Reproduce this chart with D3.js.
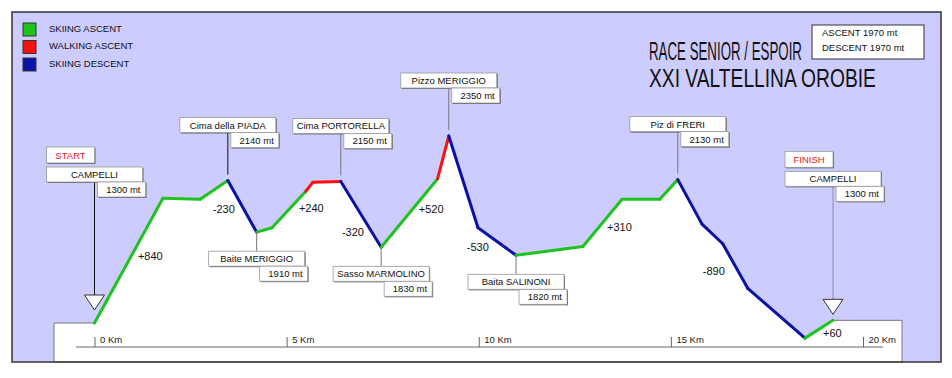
<!DOCTYPE html>
<html>
<head>
<meta charset="utf-8">
<script src="https://cdn.jsdelivr.net/npm/d3@7"></script>
<style>
  body { margin: 0; background: #fff; }
  svg { display: block; font-family: "Liberation Sans", Arial, sans-serif; }
</style>
</head>
<body>
<script>
// course profile: distance (km) and altitude (m)
var profileKm  = [0, 1.78, 2.75, 3.47, 4.22, 4.62, 5.50, 5.68, 6.41, 7.46, 8.93, 9.22,
                  9.98, 10.97, 12.71, 13.73, 14.71, 15.18, 15.81, 16.35, 17.00, 18.49, 19.22];
var profileAlt = [1300, 2000, 1995, 2100, 1810, 1835, 2040, 2090, 2095, 1725, 2110, 2350,
                  1835, 1680, 1730, 1995, 1995, 2105, 1855, 1745, 1495, 1215, 1315];
// kind of each stretch between point i and i+1 (s = skiing ascent, w = walking, d = descent)
var segKind = ["s","s","s","d","s","s","w","w","d","s","w","d",
               "d","s","s","s","s","d","d","d","d","s"];

var legendNames = ["SKIING ASCENT", "WALKING ASCENT", "SKIING DESCENT"];
var legendKinds = ["s", "w", "d"];

// named places on the course
var labelNames = ["CAMPELLI", "Cima della PIADA", "Baite MERIGGIO", "Cima PORTORELLA",
                  "Sasso MARMOLINO", "Pizzo MERIGGIO", "Baita SALINONI", "Piz di FRERI", "CAMPELLI"];
var labelAlts  = [1300, 2140, 1910, 2150, 1830, 2350, 1820, 2130, 1300];
var labelPoint = [0, 3, 4, 8, 9, 11, 13, 17, 22];
var labelKind  = ["start", "peak", "valley", "peak", "valley", "peak", "valley", "peak", "finish"];

// climb / descent amounts and where they are written (km, m)
var diffText = ["+840", "-230", "+240", "-320", "+520", "-530", "+310", "-890", "+60"];
var diffKm   = [1.13, 3.08, 5.32, 6.44, 8.44, 9.69, 13.34, 15.83, 18.96];
var diffAlt  = [1655, 1920, 1925, 1790, 1920, 1705, 1815, 1570, 1220];

var kmTicks = [0, 5, 10, 15, 20];
var titleLines = ["RACE SENIOR / ESPOIR", "XXI VALTELLINA OROBIE"];
var totals = ["ASCENT 1970 mt", "DESCENT 1970 mt"];

var colors = { s: "#1ec41e", w: "#ff1010", d: "#0a10aa" };

var svg = d3.select("body").append("svg")
    .attr("width", 952)
    .attr("height", 378);

var x = d3.scaleLinear().domain([0, 20]).range([94.5, 863]);
var y = d3.scaleLinear().domain([1300, 2350]).range([323, 136]);

// frame
svg.append("rect")
    .attr("x", 12).attr("y", 12).attr("width", 929).attr("height", 350)
    .attr("fill", "#ccccff");

// white ground under the profile
var last = profileKm.length - 1;
var ground = [[x(0) - 40.5, 362], [x(0) - 40.5, y(profileAlt[0])]];
profileKm.forEach(function (k, i) { ground.push([x(k), y(profileAlt[i])]); });
ground.push([x(profileKm[last]) + 69, y(profileAlt[last])]);
ground.push([x(profileKm[last]) + 69, 362]);
svg.append("path")
    .attr("d", d3.line()(ground) + "Z")
    .attr("fill", "#fff")
    .attr("stroke", "#777")
    .attr("stroke-width", 1);

// km axis
svg.append("line")
    .attr("x1", x(0) - 18.5).attr("x2", x(20) + 20)
    .attr("y1", 347).attr("y2", 347)
    .attr("stroke", "#666");
var axis = svg.append("g")
    .attr("transform", "translate(0,347)")
    .call(d3.axisTop(x).tickValues(kmTicks).tickSize(10).tickSizeOuter(0)
        .tickFormat(function (d) { return d + " Km"; }));
axis.select(".domain").remove();
axis.selectAll("line").attr("stroke", "#666");
axis.selectAll("text")
    .attr("x", 5).attr("y", -4).attr("dy", null)
    .attr("text-anchor", "start")
    .attr("font-family", "Liberation Sans, Arial, sans-serif")
    .attr("font-size", "9.5px")
    .attr("fill", "#222");

// profile
svg.append("g").selectAll("line")
    .data(segKind)
    .join("line")
    .attr("x1", function (d, i) { return x(profileKm[i]); })
    .attr("y1", function (d, i) { return y(profileAlt[i]); })
    .attr("x2", function (d, i) { return x(profileKm[i + 1]); })
    .attr("y2", function (d, i) { return y(profileAlt[i + 1]); })
    .attr("stroke", function (d) { return colors[d]; })
    .attr("stroke-width", 3)
    .attr("stroke-linecap", "round");

// climb / descent numbers
svg.append("g").selectAll("text")
    .data(diffText)
    .join("text")
    .attr("x", function (d, i) { return x(diffKm[i]); })
    .attr("y", function (d, i) { return y(diffAlt[i]); })
    .attr("font-size", "11px")
    .attr("fill", "#111")
    .text(function (d) { return d; });

// place labels
function box(g, bx, by, w, h) {
    g.append("rect").attr("x", bx + 1).attr("y", by + 1).attr("width", w).attr("height", h)
        .attr("fill", "#666");
    g.append("rect").attr("x", bx).attr("y", by).attr("width", w).attr("height", h)
        .attr("fill", "#fff").attr("stroke", "#999").attr("stroke-width", 0.8);
}

labelNames.forEach(function (name, i) {
    var p = labelPoint[i];
    var px = x(profileKm[p]);
    var py = y(profileAlt[p]);
    var kind = labelKind[i];
    var g = svg.append("g");
    var top;

    if (kind === "peak") {
        top = py - 63;
        g.append("line").attr("x1", px).attr("x2", px)
            .attr("y1", top + 15).attr("y2", py - 6)
            .attr("stroke", i === 1 ? "#111" : "#777");
    } else if (kind === "valley") {
        top = py + 19;
        g.append("line").attr("x1", px).attr("x2", px)
            .attr("y1", py).attr("y2", top)
            .attr("stroke", "#777");
    } else {
        // start / finish: flag, line and arrow
        top = kind === "start" ? py - 156 : py - 149;
        var apex = kind === "start" ? py - 13 : py - 6;
        g.append("line").attr("x1", px).attr("x2", px)
            .attr("y1", top + 15).attr("y2", apex - 15)
            .attr("stroke", kind === "start" ? "#111" : "#8a8aa6");
        g.append("path")
            .attr("d", d3.line()([[px - 10, apex - 15], [px + 10, apex - 15], [px, apex]]) + "Z")
            .attr("fill", "#fff").attr("stroke", "#333");
        box(g, px - 48, top - 20, 48, 16);
        g.append("text").attr("x", px - 24).attr("y", top - 8)
            .attr("text-anchor", "middle").attr("font-size", "9.5px")
            .attr("fill", "#e5202a")
            .text(kind === "start" ? "START" : "FINISH");
    }

    box(g, px - 48, top, 96, 15);
    g.append("text").attr("x", px).attr("y", top + 11)
        .attr("text-anchor", "middle").attr("font-size", "9.5px").attr("fill", "#111")
        .text(name);
    box(g, px + 3, top + 15, 48, 15);
    g.append("text").attr("x", px + 46).attr("y", top + 26)
        .attr("text-anchor", "end").attr("font-size", "9.5px").attr("fill", "#111")
        .text(labelAlts[i] + " mt");
});

// legend
var legend = svg.append("g").selectAll("g")
    .data(legendNames)
    .join("g")
    .attr("transform", function (d, i) { return "translate(23," + (23 + i * 17.5) + ")"; });
legend.append("rect")
    .attr("width", 13).attr("height", 13)
    .attr("fill", function (d, i) { return colors[legendKinds[i]]; })
    .attr("stroke", "#333");
legend.append("text")
    .attr("x", 26).attr("y", 8.5)
    .attr("font-size", "9.5px").attr("fill", "#111")
    .text(function (d) { return d; });

// title: narrow lettering, squeezed horizontally to the width it has in the original
var titleSpots = [[649, 60, 25, 153], [649, 87, 26, 227]];
titleLines.forEach(function (t, i) {
    var s = titleSpots[i];
    var txt = svg.append("text")
        .attr("x", 0).attr("y", 0)
        .attr("font-size", s[2] + "px").attr("fill", "#111")
        .text(t);
    var w = txt.node().getComputedTextLength();
    txt.attr("transform", "translate(" + s[0] + "," + s[1] + ") scale(" + (s[3] / w) + ",1)");
});

// totals box
svg.append("rect")
    .attr("x", 812).attr("y", 25).attr("width", 112).attr("height", 34)
    .attr("fill", "#fff").attr("stroke", "#333");
svg.append("g").selectAll("text")
    .data(totals)
    .join("text")
    .attr("x", 822)
    .attr("y", function (d, i) { return 36 + i * 15; })
    .attr("font-size", "9.5px").attr("fill", "#111")
    .text(function (d) { return d; });

// frame border on top
svg.append("rect")
    .attr("x", 12).attr("y", 12).attr("width", 929).attr("height", 350)
    .attr("fill", "none")
    .attr("stroke", "#333")
    .attr("stroke-width", 1.5);
</script>
</body>
</html>
